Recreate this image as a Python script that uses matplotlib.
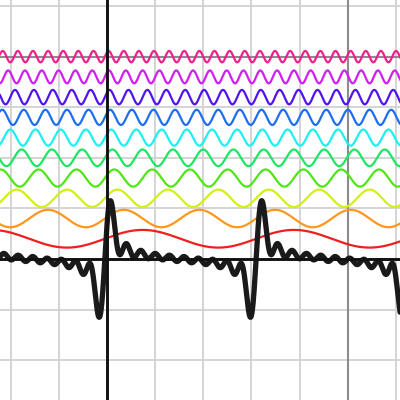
import numpy as np
import matplotlib
matplotlib.use("Agg")
import matplotlib.pyplot as plt

# Harmonic components (Fourier-style): frequency, amplitude, vertical offset, colour
harmonics = [1, 2, 3, 4, 5, 6, 7, 8, 9, 10]
amplitudes = [0.35, 0.345, 0.345, 0.34, 0.33, 0.32, 0.30, 0.285, 0.255, 0.225]
offsets = [0.8, 1.6, 2.4, 3.2, 4.0, 4.8, 5.6, 6.4, 7.2, 8.0]
colors = ["#f01e1e", "#ff961e", "#d2f014", "#50e614", "#1ee664",
          "#1ef0f0", "#1e6ef0", "#5014f0", "#d21ef0", "#f0208c"]
phase = 0.09

# Reference lines
grid_x = [-4, -2, 0, 2, 4, 6, 8, 10, 12]
grid_y = [-4, -2, 0, 2, 4, 6, 8, 10]
dark_x = [10]
dark_y = [8]

fig = plt.figure(figsize=(4, 4), dpi=100)
ax = fig.add_axes([0, 0, 1, 1])
ax.set_xlim(-4.444, 12.17)
ax.set_ylim(-5.575, 10.24)
ax.axis("off")

for gx in grid_x:
    ax.axvline(gx, color="#d4d4d4", lw=1.4, zorder=0)
for gy in grid_y:
    ax.axhline(gy, color="#d4d4d4", lw=1.4, zorder=0)
for gx in dark_x:
    ax.axvline(gx, color="#8c8c8c", lw=1.5, zorder=1)
for gy in dark_y:
    ax.axhline(gy, color="#8c8c8c", lw=1.5, zorder=1)

x = np.linspace(-4.5, 12.3, 4000)
total = np.zeros_like(x)
for n, a, off, c in zip(harmonics, amplitudes, offsets, colors):
    yv = a * np.sin(n * (x + phase))
    total += yv
    ax.plot(x, yv + off, color=c, lw=1.6, zorder=3)

ax.plot(x, total, color="#1a1a1a", lw=3.8, zorder=4, solid_capstyle="round")

ax.axhline(0, color="#111111", lw=2.1, zorder=5)
ax.axvline(0, color="#111111", lw=2.1, zorder=5)

fig.savefig("out.png", dpi=100)
